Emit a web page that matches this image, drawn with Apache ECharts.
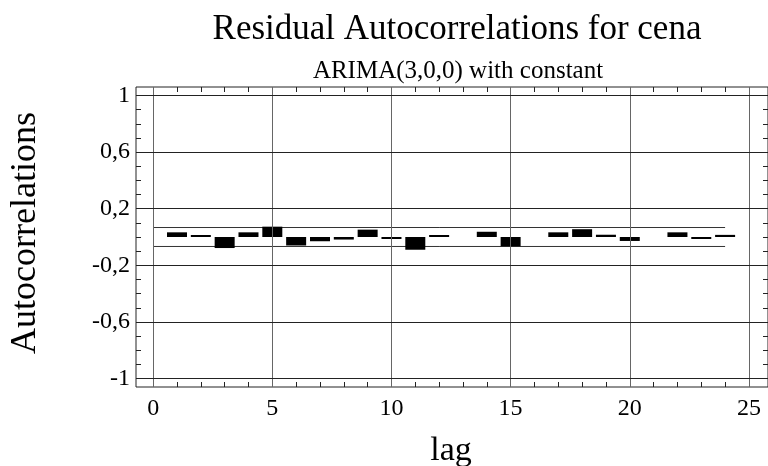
<!DOCTYPE html>
<html>
<head>
<meta charset="utf-8">
<script src="https://cdn.jsdelivr.net/npm/echarts@6/dist/echarts.min.js"></script>
<style>
html, body { margin: 0; padding: 0; background: #fff; }
#chart { width: 768px; height: 466px; }
</style>
</head>
<body>
<div id="chart"></div>
<script>
// lags and residual autocorrelations (null = not drawn)
const lags = [1, 2, 3, 4, 5, 6, 7, 8, 9, 10, 11, 12, 13, 14, 15, 16, 17, 18, 19, 20, 21, 22, 23, 24];
const acf = [0.033, 0.002, -0.078, 0.033, 0.073, -0.060, -0.030, -0.018, 0.052, -0.006, -0.090, 0.002,
             null, 0.037, -0.066, null, 0.033, 0.055, 0.016, -0.028, null, 0.033, -0.012, 0.015];

// probability limits
const limitLags = [0, 24];
const upperLimit = [0.067, 0.067];
const lowerLimit = [-0.067, -0.067];

// tick labels / grid
const xLabels = [0, 5, 10, 15, 20, 25];
const xTicks = [0, 1, 2, 3, 4, 5, 6, 7, 8, 9, 10, 11, 12, 13, 14, 15, 16, 17, 18, 19, 20, 21, 22, 23, 24, 25];
const yLabels = [-1, -0.6, -0.2, 0.2, 0.6, 1];
const yTicks = [-1, -0.9, -0.8, -0.7, -0.6, -0.5, -0.4, -0.3, -0.2, -0.1, 0, 0.1, 0.2, 0.3, 0.4, 0.5, 0.6, 0.7, 0.8, 0.9, 1];

const serif = '"Liberation Serif", "Times New Roman", serif';

var myChart = echarts.init(document.getElementById('chart'));

// ticks drawn inside the frame on every side
const tickStyle = { show: true, inside: true, length: 5, lineStyle: { color: '#222', width: 1 } };
const noLine = { show: false, onZero: false };

var option = {
  animation: false,
  grid: {
    left: 136,
    top: 87,
    width: 635,
    height: 300,
    show: true,
    borderColor: '#222',
    borderWidth: 1,
    backgroundColor: 'transparent'
  },
  xAxis: [
    {
      type: 'value',
      position: 'bottom',
      min: -0.72,
      max: 25.8,
      axisLine: noLine,
      axisTick: Object.assign({ customValues: xTicks }, tickStyle),
      axisLabel: {
        customValues: xLabels,
        fontFamily: serif,
        fontSize: 24,
        color: '#000',
        margin: 10
      },
      splitLine: { show: false }
    },
    {
      type: 'value',
      position: 'top',
      min: -0.72,
      max: 25.8,
      axisLine: noLine,
      axisTick: Object.assign({ customValues: xTicks }, tickStyle),
      axisLabel: { show: false },
      splitLine: { show: false }
    }
  ],
  yAxis: [
    {
      type: 'value',
      position: 'left',
      min: -1.06,
      max: 1.06,
      axisLine: noLine,
      axisTick: Object.assign({ customValues: yTicks }, tickStyle),
      axisLabel: {
        customValues: yLabels,
        fontFamily: serif,
        fontSize: 24,
        color: '#000',
        margin: 6,
        formatter: function (v) { return String(v).replace('.', ','); }
      },
      splitLine: { show: false }
    },
    {
      type: 'value',
      position: 'right',
      min: -1.06,
      max: 1.06,
      axisLine: noLine,
      axisTick: Object.assign({ customValues: yTicks }, tickStyle),
      axisLabel: { show: false },
      splitLine: { show: false }
    }
  ],
  graphic: [
    {
      type: 'text', x: 457, y: 30,
      style: { text: 'Residual Autocorrelations for cena', fontFamily: serif, fontSize: 35, fill: '#000', align: 'center', verticalAlign: 'middle' }
    },
    {
      type: 'text', x: 458, y: 71,
      style: { text: 'ARIMA(3,0,0) with constant', fontFamily: serif, fontSize: 25, fill: '#000', align: 'center', verticalAlign: 'middle' }
    },
    {
      type: 'text', x: 26, y: 233, rotation: Math.PI / 2,
      style: { text: 'Autocorrelations', fontFamily: serif, fontSize: 36, fill: '#000', align: 'center', verticalAlign: 'middle' }
    },
    {
      type: 'text', x: 451, y: 451,
      style: { text: 'lag', fontFamily: serif, fontSize: 34, fill: '#000', align: 'center', verticalAlign: 'middle' }
    }
  ],
  series: [
    {
      name: 'upper limit',
      type: 'line',
      xAxisIndex: 0,
      yAxisIndex: 0,
      symbol: 'none',
      silent: true,
      z: 2,
      lineStyle: { color: '#333', width: 1 },
      data: limitLags.map((l, i) => [l, upperLimit[i]]),
      markLine: {
        silent: true,
        symbol: ['none', 'none'],
        label: { show: false },
        data: xLabels.map(v => ({ xAxis: v, lineStyle: { color: '#666', width: 1, type: 'solid' } }))
          .concat(yLabels.map(v => ({ yAxis: v, lineStyle: { color: '#222', width: 1, type: 'solid' } })))
      }
    },
    {
      name: 'lower limit',
      type: 'line',
      xAxisIndex: 0,
      yAxisIndex: 0,
      symbol: 'none',
      silent: true,
      z: 2,
      lineStyle: { color: '#333', width: 1 },
      data: limitLags.map((l, i) => [l, lowerLimit[i]])
    },
    {
      name: 'autocorrelation',
      type: 'bar',
      xAxisIndex: 0,
      yAxisIndex: 0,
      barWidth: 20,
      barMinHeight: 2,
      silent: true,
      z: 3,
      itemStyle: { color: '#000' },
      data: lags.map((l, i) => [l, acf[i] === null ? '-' : acf[i]])
    }
  ]
};

myChart.setOption(option);
</script>
</body>
</html>
